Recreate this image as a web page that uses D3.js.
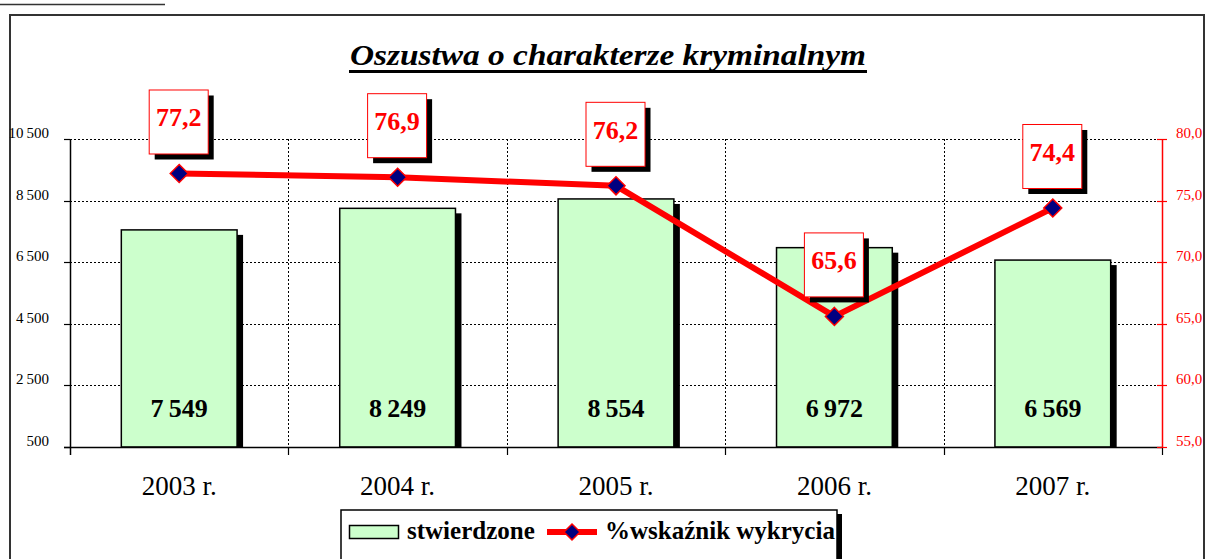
<!DOCTYPE html>
<html>
<head>
<meta charset="utf-8">
<script src="https://cdn.jsdelivr.net/npm/d3@7"></script>
<style>
  body { margin: 0; background: #fff; }
  svg { display: block; font-family: "Liberation Serif", "DejaVu Serif", serif; }
</style>
</head>
<body>
<div id="chart"></div>
<script>
// Data
var years = ["2003 r.", "2004 r.", "2005 r.", "2006 r.", "2007 r."];
var stwierdzone = [7549, 8249, 8554, 6972, 6569];
var wskaznik = [77.2, 76.9, 76.2, 65.6, 74.4];
var leftTicks = [500, 2500, 4500, 6500, 8500, 10500];
var rightTicks = [55, 60, 65, 70, 75, 80];

var W = 1205, H = 559;
var plot = { left: 70, right: 1162, top: 139, bottom: 447 };

var svg = d3.select("#chart").append("svg")
    .attr("width", W)
    .attr("height", H);

// cut-off caption from the page above
svg.append("line")
    .attr("x1", 0).attr("x2", 165)
    .attr("y1", 4.5).attr("y2", 4.5)
    .attr("stroke", "#333").attr("stroke-width", 1.5);

// outer frame
svg.append("rect")
    .attr("x", 10).attr("y", 15)
    .attr("width", 1194).attr("height", 600)
    .attr("fill", "none")
    .attr("stroke", "#333")
    .attr("stroke-width", 2);

// Scales
var x = d3.scaleBand().domain(years).range([plot.left, plot.right]).paddingInner(0.47).paddingOuter(0.235);
var xb = d3.scaleBand().domain(years).range([plot.left, plot.right]);
var y = d3.scaleLinear().domain([500, 10500]).range([plot.bottom, plot.top]);
var y2 = d3.scaleLinear().domain([55, 80]).range([plot.bottom, plot.top]);
var fmt = function (v) { return d3.format(",")(v).replace(/,/g, "\u2009"); };

// Title
svg.append("text")
    .attr("x", 608).attr("y", 65)
    .attr("text-anchor", "middle")
    .style("font-size", "29px")
    .style("font-weight", "bold")
    .style("font-style", "italic")
    .attr("textLength", 516)
    .attr("lengthAdjust", "spacingAndGlyphs")
    .text("Oszustwa o charakterze kryminalnym");
svg.append("line")
    .attr("x1", 349).attr("x2", 867)
    .attr("y1", 71.5).attr("y2", 71.5)
    .attr("stroke", "#000").attr("stroke-width", 3);

// Gridlines
var grid = svg.append("g");
grid.selectAll(".hgrid")
    .data(leftTicks.slice(1))
    .enter().append("line")
    .attr("x1", plot.left).attr("x2", plot.right)
    .attr("y1", function (d) { return Math.round(y(d)) + 0.5; })
    .attr("y2", function (d) { return Math.round(y(d)) + 0.5; })
    .attr("stroke", "#000")
    .attr("stroke-width", 1)
    .attr("stroke-dasharray", "2,2");
grid.selectAll(".vgrid")
    .data(years.slice(1))
    .enter().append("line")
    .attr("x1", function (d) { return Math.round(xb(d)) + 0.5; })
    .attr("x2", function (d) { return Math.round(xb(d)) + 0.5; })
    .attr("y1", plot.top).attr("y2", plot.bottom)
    .attr("stroke", "#000")
    .attr("stroke-width", 1)
    .attr("stroke-dasharray", "2,2");

// Bars with shadow
var bars = svg.append("g");
bars.selectAll(".shadow")
    .data(stwierdzone)
    .enter().append("rect")
    .attr("x", function (d, i) { return x(years[i]) + 6; })
    .attr("y", function (d) { return y(d) + 5; })
    .attr("width", x.bandwidth())
    .attr("height", function (d) { return plot.bottom - y(d) - 5; })
    .attr("fill", "#000");
bars.selectAll(".bar")
    .data(stwierdzone)
    .enter().append("rect")
    .attr("x", function (d, i) { return x(years[i]); })
    .attr("y", function (d) { return y(d); })
    .attr("width", x.bandwidth())
    .attr("height", function (d) { return plot.bottom - y(d); })
    .attr("fill", "#CCFFCC")
    .attr("stroke", "#000")
    .attr("stroke-width", 1.5);
bars.selectAll(".blabel")
    .data(stwierdzone)
    .enter().append("text")
    .attr("x", function (d, i) { return x(years[i]) + x.bandwidth() / 2; })
    .attr("y", 417)
    .attr("text-anchor", "middle")
    .style("font-size", "26px")
    .style("font-weight", "bold")
    .text(function (d) { return fmt(d); });

// Axes
var axisG = svg.append("g");
axisG.append("line")
    .attr("x1", plot.left - 6).attr("x2", plot.right)
    .attr("y1", plot.bottom + 0.5).attr("y2", plot.bottom + 0.5)
    .attr("stroke", "#000").attr("stroke-width", 1.5);
axisG.append("line")
    .attr("x1", plot.left + 0.5).attr("x2", plot.left + 0.5)
    .attr("y1", plot.top).attr("y2", plot.bottom + 8)
    .attr("stroke", "#000").attr("stroke-width", 1.5);
axisG.selectAll(".ltick")
    .data(leftTicks)
    .enter().append("line")
    .attr("x1", plot.left - 6).attr("x2", plot.left)
    .attr("y1", function (d) { return Math.round(y(d)) + 0.5; })
    .attr("y2", function (d) { return Math.round(y(d)) + 0.5; })
    .attr("stroke", "#000").attr("stroke-width", 1.2);
axisG.selectAll(".ltext")
    .data(leftTicks)
    .enter().append("text")
    .attr("x", 49)
    .attr("y", function (d) { return y(d) - 1; })
    .attr("text-anchor", "end")
    .style("font-size", "15px")
    .text(function (d) { return fmt(d); });
axisG.selectAll(".xtick")
    .data(years.slice(1).concat(["end"]))
    .enter().append("line")
    .attr("x1", function (d) { return d === "end" ? plot.right + 0.5 : Math.round(xb(d)) + 0.5; })
    .attr("x2", function (d) { return d === "end" ? plot.right + 0.5 : Math.round(xb(d)) + 0.5; })
    .attr("y1", plot.bottom).attr("y2", plot.bottom + 8)
    .attr("stroke", "#000").attr("stroke-width", 1.2);
axisG.selectAll(".xtext")
    .data(years)
    .enter().append("text")
    .attr("x", function (d) { return xb(d) + xb.bandwidth() / 2; })
    .attr("y", 495)
    .attr("text-anchor", "middle")
    .style("font-size", "27px")
    .text(function (d) { return d; });

// right axis (red)
axisG.append("line")
    .attr("x1", plot.right + 0.5).attr("x2", plot.right + 0.5)
    .attr("y1", plot.top).attr("y2", plot.bottom)
    .attr("stroke", "#FF0000").attr("stroke-width", 1.5);
axisG.selectAll(".rtick")
    .data(rightTicks)
    .enter().append("line")
    .attr("x1", plot.right - 5).attr("x2", plot.right + 5)
    .attr("y1", function (d) { return Math.round(y2(d)) + 0.5; })
    .attr("y2", function (d) { return Math.round(y2(d)) + 0.5; })
    .attr("stroke", "#FF0000").attr("stroke-width", 1.2);
axisG.selectAll(".rtext")
    .data(rightTicks)
    .enter().append("text")
    .attr("x", 1176)
    .attr("y", function (d) { return y2(d) - 1; })
    .attr("fill", "#FF0000")
    .style("font-size", "15px")
    .text(function (d) { return d3.format(".1f")(d).replace(".", ","); });

// Line series
var cx = function (i) { return xb(years[i]) + xb.bandwidth() / 2; };
svg.append("path")
    .datum(wskaznik)
    .attr("d", d3.line().x(function (d, i) { return cx(i); }).y(function (d) { return y2(d); }))
    .attr("fill", "none")
    .attr("stroke", "#FF0000")
    .attr("stroke-width", 6)
    .attr("stroke-linejoin", "round");
svg.selectAll(".dot")
    .data(wskaznik)
    .enter().append("path")
    .attr("transform", function (d, i) { return "translate(" + cx(i) + "," + y2(d) + ")"; })
    .attr("d", "M0,-9L9,0L0,9L-9,0Z")
    .attr("fill", "#000080")
    .attr("stroke", "#FF0000")
    .attr("stroke-width", 1.5);

// Value boxes
var boxW = 59, boxH = 64;
var boxes = svg.selectAll(".vbox")
    .data(wskaznik)
    .enter().append("g")
    .attr("transform", function (d, i) {
        return "translate(" + (cx(i) - boxW / 2 - 1) + "," + (y2(d) - 20 - boxH) + ")";
    });
boxes.append("rect")
    .attr("x", 6).attr("y", 6)
    .attr("width", boxW).attr("height", boxH)
    .attr("fill", "#000");
boxes.append("rect")
    .attr("x", 0.5).attr("y", 0.5)
    .attr("width", boxW).attr("height", boxH)
    .attr("fill", "#fff")
    .attr("stroke", "#FF0000")
    .attr("stroke-width", 1);
boxes.append("text")
    .attr("x", boxW / 2 + 0.5)
    .attr("y", 37)
    .attr("text-anchor", "middle")
    .attr("fill", "#FF0000")
    .style("font-size", "26px")
    .style("font-weight", "bold")
    .text(function (d) { return d3.format(".1f")(d).replace(".", ","); });

// Legend
var lg = svg.append("g");
lg.append("rect")
    .attr("x", 842 - 6).attr("y", 514)
    .attr("width", 6).attr("height", 60)
    .attr("fill", "#000");
lg.append("rect")
    .attr("x", 341).attr("y", 510)
    .attr("width", 496).attr("height", 60)
    .attr("fill", "#fff")
    .attr("stroke", "#000")
    .attr("stroke-width", 1.5);
lg.append("rect")
    .attr("x", 349.5).attr("y", 525.5)
    .attr("width", 49).attr("height", 13)
    .attr("fill", "#CCFFCC")
    .attr("stroke", "#000")
    .attr("stroke-width", 1.5);
lg.append("text")
    .attr("x", 407).attr("y", 539)
    .style("font-size", "25px")
    .style("font-weight", "bold")
    .text("stwierdzone");
lg.append("line")
    .attr("x1", 547).attr("x2", 597)
    .attr("y1", 532).attr("y2", 532)
    .attr("stroke", "#FF0000").attr("stroke-width", 6);
lg.append("path")
    .attr("transform", "translate(572,532)")
    .attr("d", "M0,-8L8,0L0,8L-8,0Z")
    .attr("fill", "#000080")
    .attr("stroke", "#FF0000")
    .attr("stroke-width", 1.5);
lg.append("text")
    .attr("x", 605).attr("y", 539)
    .style("font-size", "25px")
    .style("font-weight", "bold")
    .text("%wskaźnik wykrycia");
</script>
</body>
</html>
